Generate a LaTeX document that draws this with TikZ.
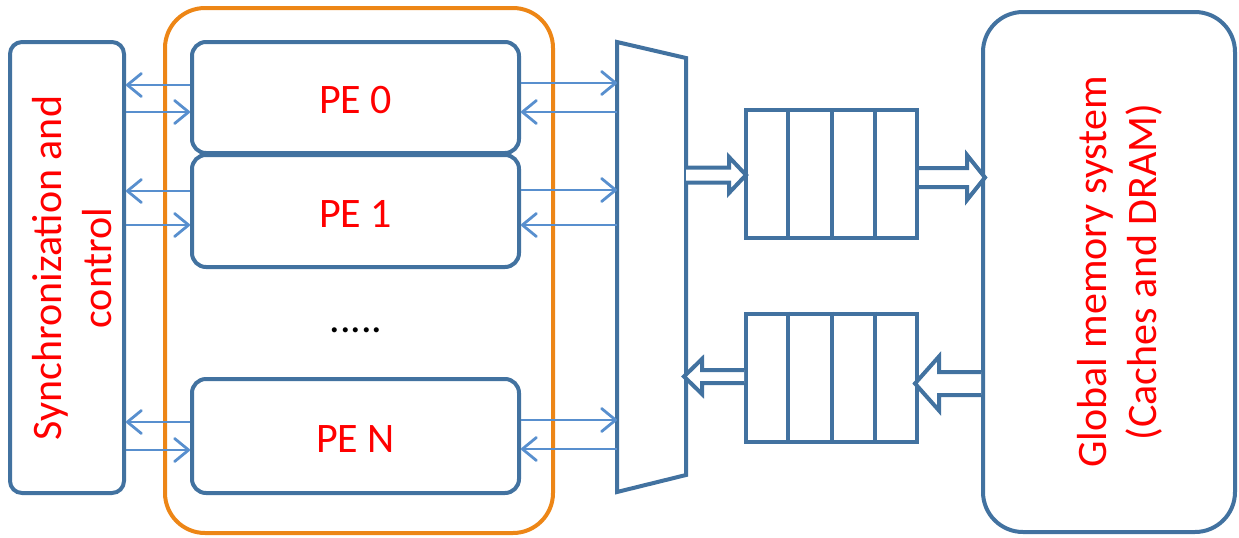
\documentclass[tikz,border=0pt]{standalone}
\usepackage{fontspec}
\setmainfont{Carlito}
\usetikzlibrary{arrows.meta,calc}

\definecolor{boxblue}{RGB}{66,114,160}
\definecolor{wireblue}{RGB}{88,143,206}
\definecolor{clusterorange}{RGB}{237,134,22}
\definecolor{labelred}{RGB}{255,0,0}

\tikzset{
  unit/.style={draw=boxblue, line width=2pt, rounded corners=#1, inner sep=0pt},
  unit/.default=7pt,
  lbl/.style={text=labelred, font=\fontsize{21}{25}\selectfont},
  pelbl/.style={lbl, text height=16.3pt, text depth=0pt},
  wire/.style={draw=wireblue, line width=1.4pt,
    >={Straight Barb[length=7pt,width=11.5pt,round]}},
  hollow/.style={draw=boxblue, line width=2pt, fill=white, line join=miter},
  cell/.style={draw=boxblue, line width=2pt, fill=white, inner sep=0pt,
    minimum width=85.5pt, minimum height=64pt},
  % wide outlined arrow: length / shaft half width / head half width / head length
  pics/harrow/.style n args={4}{code={
    \draw[hollow] (0,-#2) -- (#1-#4,-#2) -- (#1-#4,-#3) -- (#1,0)
      -- (#1-#4,#3) -- (#1-#4,#2) -- (0,#2);
  }},
}

\begin{document}
\begin{tikzpicture}[x=0.5pt,y=-0.5pt]
\useasboundingbox (0,0) rectangle (1239,537);

% processing element cluster
\node[draw=clusterorange, line width=2pt, rounded corners=20pt,
      minimum width=194pt, minimum height=262.5pt] (cluster) at (359,270.5) {};

% synchronization block
\node[unit=6pt, minimum width=57pt, minimum height=225.5pt] (sync) at (67,267.5) {};
\node[lbl, rotate=90, align=center] (synctext) at (72,268)
  {Synchronization and\\control};

% processing elements
\node[unit, fill=white, minimum width=163.5pt, minimum height=55.5pt, pelbl] (pe0) at (355.5,97.5) {PE 0};
\node[unit, fill=white, minimum width=163.5pt, minimum height=56pt, pelbl] (pe1) at (355.5,211) {PE 1};
\node[unit, fill=white, minimum width=163.5pt, minimum height=57pt, pelbl] (pen) at (355.5,436) {PE N};
\node[font=\fontsize{21}{25}\selectfont, anchor=base] (dots) at (356,332) {.....};

% crossbar / multiplexer
\coordinate (mTL) at (617,42);
\coordinate (mTR) at (686,58);
\coordinate (mBR) at (686,475);
\coordinate (mBL) at (617,492);
\draw[boxblue, line width=2pt, line join=miter] (mTL) -- (mTR) -- (mBR) -- (mBL) -- cycle;

% request and response queues
\node[cell] (q1) at (831.5,174) {};
\node[cell] (q2) at (831.5,377.5) {};
\foreach \q in {q1,q2}{
  \foreach \f in {0.25,0.5,0.75}{
    \draw[boxblue, line width=2pt]
      ($(\q.north west)!\f!(\q.north east)$) -- ($(\q.south west)!\f!(\q.south east)$);
  }
}

% global memory
\node[unit=20pt, minimum width=126pt, minimum height=260pt] (gm) at (1109,272) {};
\node[lbl, rotate=90, align=center] (gmtext) at (1120,272)
  {Global memory system\\(Caches and DRAM)};

% control links
\draw[wire, <-] (sync.east |- 0,85)  -- (pe0.west |- 0,85);
\draw[wire, ->] (sync.east |- 0,112) -- (pe0.west |- 0,112);
\draw[wire, <-] (sync.east |- 0,191) -- (pe1.west |- 0,191);
\draw[wire, ->] (sync.east |- 0,225) -- (pe1.west |- 0,225);
\draw[wire, <-] (sync.east |- 0,422) -- (pen.west |- 0,422);
\draw[wire, ->] (sync.east |- 0,450) -- (pen.west |- 0,450);

% data links to the crossbar
\draw[wire, ->] (pe0.east |- 0,83)  -- (mTL |- 0,83);
\draw[wire, <-] (pe0.east |- 0,112) -- (mTL |- 0,112);
\draw[wire, ->] (pe1.east |- 0,190) -- (mTL |- 0,190);
\draw[wire, <-] (pe1.east |- 0,225) -- (mTL |- 0,225);
\draw[wire, ->] (pen.east |- 0,420) -- (mTL |- 0,420);
\draw[wire, <-] (pen.east |- 0,449) -- (mTL |- 0,449);

% wide data paths
\pic at (mTR |- 0,175) {harrow={60}{7.5}{18}{17}};
\pic at (q1.east |- 0,177.5) {harrow={66}{9.5}{22.5}{18}};
\pic[xscale=-1] at (q2.west |- 0,376.5) {harrow={60}{6.5}{17.5}{18}};
\pic[xscale=-1] at (gm.west |- 0,383.5) {harrow={66}{11.5}{27}{24}};
\end{tikzpicture}
\end{document}
